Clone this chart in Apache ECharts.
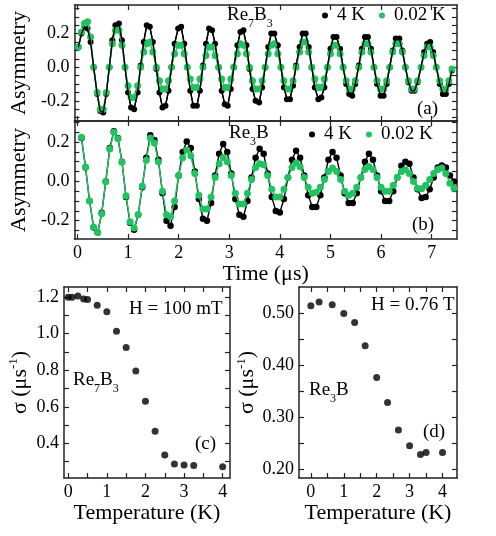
<!DOCTYPE html>
<html>
<head>
<meta charset="utf-8">
<script src="https://cdn.jsdelivr.net/npm/echarts@6/dist/echarts.min.js"></script>
<style>
html, body { margin: 0; padding: 0; background: #fff; }
#chart { width: 496px; height: 536px; }
</style>
</head>
<body>
<div id="chart"></div>
<script>
var FONT = 'Liberation Serif, Times New Roman, serif';
var GREEN = '#20c35f';
var FRAME = '#222';

/* (a) Re7B3 : time bins and asymmetry */
var timeA = [
  0.02,0.08,0.14,0.20,0.26,0.32,0.39,0.45,0.51,0.57,
  0.63,0.69,0.75,0.82,0.88,0.94,1.00,1.06,1.12,1.19,
  1.25,1.31,1.37,1.43,1.49,1.56,1.62,1.68,1.74,1.80,
  1.86,1.92,1.99,2.05,2.11,2.17,2.23,2.29,2.36,2.42,
  2.48,2.54,2.60,2.66,2.72,2.79,2.85,2.91,2.97,3.03,
  3.09,3.16,3.22,3.28,3.34,3.40,3.46,3.52,3.59,3.65,
  3.71,3.77,3.83,3.89,3.96,4.02,4.08,4.14,4.20,4.26,
  4.32,4.39,4.45,4.51,4.57,4.63,4.69,4.76,4.82,4.88,
  4.94,5.00,5.06,5.12,5.19,5.25,5.31,5.37,5.43,5.49,
  5.56,5.62,5.68,5.74,5.80,5.86,5.92,5.99,6.05,6.11,
  6.17,6.23,6.29,6.36,6.42,6.48,6.54,6.60,6.66,6.72,
  6.79,6.85,6.91,6.97,7.03,7.09,7.16,7.22,7.28,7.34,
  7.40
];
var asymA4K = [
  0.12,0.20,0.24,0.23,0.15,0.00,-0.16,-0.26,-0.27,-0.16,
  0.00,0.16,0.25,0.26,0.16,0.00,-0.15,-0.24,-0.25,-0.15,
  0.01,0.15,0.25,0.24,0.15,-0.01,-0.15,-0.24,-0.23,-0.14,
  0.00,0.14,0.23,0.24,0.14,0.00,-0.14,-0.23,-0.23,-0.14,
  0.01,0.14,0.23,0.22,0.14,0.00,-0.14,-0.22,-0.23,-0.13,
  0.00,0.13,0.21,0.22,0.13,-0.01,-0.13,-0.20,-0.21,-0.12,
  0.00,0.12,0.20,0.20,0.13,0.00,-0.12,-0.19,-0.19,-0.11,
  0.01,0.12,0.20,0.20,0.12,0.00,-0.12,-0.19,-0.18,-0.12,
  0.00,0.11,0.18,0.18,0.11,0.00,-0.10,-0.16,-0.17,-0.10,
  0.01,0.11,0.18,0.18,0.11,0.00,-0.10,-0.17,-0.17,-0.10,
  0.00,0.10,0.17,0.17,0.10,0.00,-0.09,-0.14,-0.14,-0.09,
  0.00,0.09,0.14,0.15,0.09,0.00,-0.10,-0.16,-0.16,-0.10,
  -0.02
];
var asymA002K = [
  0.12,0.21,0.26,0.27,0.18,0.00,-0.15,-0.25,-0.25,-0.15,
  0.00,0.14,0.22,0.22,0.13,0.00,-0.11,-0.18,-0.18,-0.11,
  0.00,0.09,0.14,0.15,0.09,0.00,-0.08,-0.13,-0.13,-0.08,
  0.00,0.08,0.13,0.13,0.08,0.00,-0.07,-0.12,-0.12,-0.07,
  0.00,0.07,0.12,0.12,0.07,0.00,-0.07,-0.12,-0.12,-0.07,
  0.00,0.08,0.14,0.13,0.08,0.00,-0.08,-0.13,-0.13,-0.08,
  0.00,0.08,0.13,0.14,0.08,0.00,-0.08,-0.13,-0.13,-0.08,
  0.00,0.09,0.15,0.15,0.09,0.00,-0.07,-0.12,-0.12,-0.07,
  0.00,0.08,0.13,0.13,0.08,0.00,-0.08,-0.13,-0.13,-0.08,
  0.00,0.09,0.14,0.14,0.09,0.00,-0.08,-0.13,-0.13,-0.08,
  0.00,0.09,0.14,0.14,0.09,0.00,-0.08,-0.13,-0.13,-0.08,
  0.00,0.07,0.12,0.12,0.07,0.00,-0.08,-0.13,-0.13,-0.08,
  -0.01
];

/* (b) Re3B : time bins and asymmetry */
var timeB = [
  0.08,0.16,0.24,0.32,0.40,0.48,0.56,0.64,0.72,
  0.80,0.88,0.96,1.04,1.12,1.20,1.28,1.36,1.44,
  1.52,1.60,1.68,1.76,1.84,1.92,2.00,2.08,2.16,
  2.24,2.32,2.40,2.48,2.56,2.64,2.72,2.80,2.88,
  2.96,3.04,3.12,3.20,3.28,3.36,3.44,3.52,3.60,
  3.68,3.76,3.84,3.92,4.00,4.08,4.16,4.24,4.32,
  4.40,4.48,4.56,4.64,4.72,4.80,4.88,4.96,5.04,
  5.12,5.20,5.28,5.36,5.44,5.52,5.60,5.68,5.76,
  5.84,5.92,6.00,6.08,6.16,6.24,6.32,6.40,6.48,
  6.56,6.64,6.72,6.80,6.88,6.96,7.04,7.12,7.20,
  7.28,7.36,7.44
];
var asymB4K = [
  0.22,0.07,-0.10,-0.235,-0.26,-0.16,0.00,0.17,0.255,
  0.22,0.10,-0.08,-0.21,-0.246,-0.17,-0.03,0.12,0.234,
  0.21,0.11,-0.06,-0.20,-0.225,-0.13,0.03,0.15,0.203,
  0.17,0.05,-0.09,-0.19,-0.20,-0.11,0.03,0.14,0.19,
  0.15,0.04,-0.09,-0.17,-0.18,-0.10,0.02,0.12,0.166,
  0.14,0.04,-0.08,-0.15,-0.158,-0.09,0.02,0.11,0.156,
  0.12,0.03,-0.07,-0.13,-0.13,-0.07,0.02,0.11,0.149,
  0.12,0.03,-0.06,-0.11,-0.11,-0.06,0.02,0.10,0.14,
  0.11,0.03,-0.05,-0.10,-0.10,-0.05,0.02,0.08,0.10,
  0.09,0.02,-0.04,-0.085,-0.08,-0.04,0.02,0.07,0.081,
  0.07,0.03,0.00
];
var asymB002K = [
  0.224,0.073,-0.10,-0.232,-0.26,-0.165,0.00,0.164,0.25,
  0.217,0.097,-0.073,-0.205,-0.237,-0.168,-0.024,0.108,0.22,
  0.195,0.10,-0.05,-0.17,-0.18,-0.10,0.03,0.12,0.16,
  0.13,0.04,-0.07,-0.14,-0.14,-0.08,0.02,0.09,0.122,
  0.10,0.03,-0.06,-0.115,-0.115,-0.06,0.01,0.07,0.09,
  0.085,0.03,-0.04,-0.08,-0.08,-0.04,0.02,0.07,0.093,
  0.075,0.02,-0.03,-0.06,-0.055,-0.03,0.01,0.05,0.068,
  0.05,0.01,-0.05,-0.07,-0.06,-0.03,0.02,0.06,0.076,
  0.06,0.02,-0.03,-0.05,-0.05,-0.02,0.02,0.05,0.059,
  0.04,0.00,-0.035,-0.038,-0.02,0.01,0.04,0.06,0.068,
  0.04,-0.01,-0.035
];

/* (c) Re7B3 : sigma vs temperature */
var tempC = [0, 0.1, 0.25, 0.4, 0.5, 0.75, 1.0, 1.25, 1.5, 1.75, 2.0, 2.25, 2.5, 2.75, 3.0, 3.25, 4.0];
var sigmaC = [1.200, 1.200, 1.207, 1.190, 1.188, 1.156, 1.120, 1.014, 0.924, 0.796, 0.630, 0.466, 0.336, 0.287, 0.281, 0.278, 0.272];

/* (d) Re3B : sigma vs temperature */
var tempD = [0, 0.25, 0.65, 1.0, 1.33, 1.65, 2.0, 2.33, 2.66, 3.0, 3.33, 3.5, 4.0];
var sigmaD = [0.515, 0.522, 0.517, 0.500, 0.483, 0.438, 0.377, 0.329, 0.276, 0.246, 0.229, 0.233, 0.233];

/* ticks and tick labels */
var timeTicks = [0, 1, 2, 3, 4, 5, 6, 7];
var asymTicksA = [-0.3, -0.25, -0.2, -0.15, -0.1, -0.05, 0, 0.05, 0.1, 0.15, 0.2, 0.25, 0.3, 0.35];
var asymTicksB = [-0.25, -0.2, -0.15, -0.1, -0.05, 0, 0.05, 0.1, 0.15, 0.2, 0.25, 0.3];
var asymLabels = [-0.2, 0, 0.2];
var tempTicks = [0, 0.5, 1, 1.5, 2, 2.5, 3, 3.5, 4];
var tempLabels = [0, 1, 2, 3, 4];
var sigmaTicksC = [0.3, 0.4, 0.5, 0.6, 0.7, 0.8, 0.9, 1.0, 1.1, 1.2];
var sigmaLabelsC = [0.4, 0.6, 0.8, 1.0, 1.2];
var sigmaTicksD = [0.2, 0.25, 0.3, 0.35, 0.4, 0.45, 0.5];
var sigmaLabelsD = [0.2, 0.3, 0.4, 0.5];

function pairs(xs, ys) {
  return xs.map(function (x, i) { return [x, ys[i]]; });
}

/* one axis of a framed panel; labels only on bottom/left */
function axis(grid, pos, min, max, ticks, labels, digits) {
  var a = {
    type: 'value', gridIndex: grid, position: pos, min: min, max: max,
    axisLine: { show: true, onZero: false, lineStyle: { color: FRAME, width: 1.5 } },
    axisTick: { show: true, inside: true, length: 5, customValues: ticks, lineStyle: { color: FRAME, width: 1.2 } },
    axisLabel: { show: false },
    splitLine: { show: false }
  };
  if (labels) {
    a.axisLabel = {
      show: true, customValues: labels, margin: 5,
      fontFamily: FONT, fontSize: 18, color: '#000',
      formatter: function (v) { return Number(v).toFixed(digits); }
    };
  }
  return a;
}

var nameStyle = { fontFamily: FONT, fontSize: 22, color: '#000' };
var sigmaName = '{m|σ (μs}{u|-1}{m|)}';
var sigmaStyle = {
  rich: {
    m: { fontFamily: FONT, fontSize: 22, color: '#000', lineHeight: 26, padding: [4, 0, 0, 0], verticalAlign: 'top' },
    u: { fontFamily: FONT, fontSize: 13, color: '#000', lineHeight: 14, padding: [2, 0, 0, 0], verticalAlign: 'top' }
  }
};

var RICH = {
  m: { fontFamily: FONT, fontSize: 19, fill: '#000', lineHeight: 22, verticalAlign: 'top' },
  s: { fontFamily: FONT, fontSize: 12, fill: '#000', lineHeight: 12, padding: [12, 0, 0, 0], verticalAlign: 'top' }
};
function note(x, y, txt) {
  return { type: 'text', left: x, top: y, z: 100, style: { text: txt, rich: RICH } };
}

var xa = [
  axis(0, 'bottom', -0.06, 7.5, timeTicks, null),
  axis(0, 'top', -0.06, 7.5, timeTicks, null),
  axis(1, 'bottom', -0.06, 7.5, timeTicks, timeTicks, 0),
  axis(1, 'top', -0.06, 7.5, timeTicks, null),
  axis(2, 'bottom', -0.11, 4.19, tempTicks, tempLabels, 0),
  axis(2, 'top', -0.11, 4.19, tempTicks, null),
  axis(3, 'bottom', -0.36, 4.44, tempTicks, tempLabels, 0),
  axis(3, 'top', -0.36, 4.44, tempTicks, null)
];
xa[2].name = 'Time (μs)'; xa[2].nameLocation = 'middle'; xa[2].nameGap = 22; xa[2].nameTextStyle = nameStyle;
xa[4].name = 'Temperature (K)'; xa[4].nameLocation = 'middle'; xa[4].nameGap = 17; xa[4].nameTextStyle = nameStyle;
xa[6].name = 'Temperature (K)'; xa[6].nameLocation = 'middle'; xa[6].nameGap = 17; xa[6].nameTextStyle = nameStyle;

var ya = [
  axis(0, 'left', -0.32, 0.37, asymTicksA, asymLabels, 1),
  axis(0, 'right', -0.32, 0.37, asymTicksA, null),
  axis(1, 'left', -0.293, 0.307, asymTicksB, asymLabels, 1),
  axis(1, 'right', -0.293, 0.307, asymTicksB, null),
  axis(2, 'left', 0.21, 1.256, sigmaTicksC, sigmaLabelsC, 1),
  axis(2, 'right', 0.21, 1.256, sigmaTicksC, null),
  axis(3, 'left', 0.184, 0.551, sigmaTicksD, sigmaLabelsD, 2),
  axis(3, 'right', 0.184, 0.551, sigmaTicksD, null)
];
ya[0].name = 'Asymmetry'; ya[0].nameLocation = 'middle'; ya[0].nameGap = 31; ya[0].nameTextStyle = nameStyle;
ya[2].name = 'Asymmetry'; ya[2].nameLocation = 'middle'; ya[2].nameGap = 31; ya[2].nameTextStyle = nameStyle;
ya[4].name = sigmaName; ya[4].nameLocation = 'middle'; ya[4].nameGap = 33; ya[4].nameTextStyle = sigmaStyle;
ya[6].name = sigmaName; ya[6].nameLocation = 'middle'; ya[6].nameGap = 38; ya[6].nameTextStyle = sigmaStyle;

function dataLine(name, grid, xs, ys, color, size, z) {
  return {
    name: name, type: 'line', xAxisIndex: grid * 2, yAxisIndex: grid * 2,
    data: pairs(xs, ys), symbol: 'circle', symbolSize: size, showSymbol: true,
    itemStyle: { color: color }, lineStyle: { color: color, width: 1.4 }, z: z
  };
}

var legendBase = {
  data: ['4 K', '0.02 K'], icon: 'circle', itemWidth: 6, itemHeight: 6, itemGap: 14,
  selectedMode: false, padding: 0,
  textStyle: { fontFamily: FONT, fontSize: 19, color: '#000', padding: [0, 0, 0, 4] }
};

var chart = echarts.init(document.getElementById('chart'), null, { renderer: 'canvas' });
chart.setOption({
  animation: false,
  backgroundColor: '#fff',
  grid: [
    { left: 57, top: 5, width: 400, height: 116 },
    { left: 57, top: 121, width: 400, height: 118 },
    { left: 64, top: 287, width: 166, height: 191 },
    { left: 299, top: 287, width: 158, height: 191 }
  ],
  xAxis: xa,
  yAxis: ya,
  legend: [
    Object.assign({}, legendBase, { left: 322, top: 6 }),
    Object.assign({}, legendBase, { left: 309, top: 125 })
  ],
  series: [
    dataLine('4 K', 0, timeA, asymA4K, '#000', 6, 2),
    dataLine('0.02 K', 0, timeA, asymA002K, GREEN, 7, 3),
    {
      name: 'fit', type: 'line', xAxisIndex: 0, yAxisIndex: 0, data: pairs(timeA, asymA4K),
      symbol: 'none', lineStyle: { color: '#000', width: 1.3 }, z: 4
    },
    dataLine('4 K', 1, timeB, asymB4K, '#000', 6.5, 2),
    dataLine('0.02 K', 1, timeB, asymB002K, GREEN, 7, 3),
    {
      type: 'scatter', xAxisIndex: 4, yAxisIndex: 4, data: pairs(tempC, sigmaC),
      symbol: 'circle', symbolSize: 7, itemStyle: { color: '#000' }
    },
    {
      type: 'scatter', xAxisIndex: 6, yAxisIndex: 6, data: pairs(tempD, sigmaD),
      symbol: 'circle', symbolSize: 7, itemStyle: { color: '#000' }
    }
  ],
  graphic: [
    note(227, 6, '{m|Re}{s|7}{m|B}{s|3}'),
    note(229, 124, '{m|Re}{s|3}{m|B}'),
    note(417, 100, '{m|(a)}'),
    note(412, 216, '{m|(b)}'),
    note(129, 300, '{m|H = 100 mT}'),
    note(73, 371, '{m|Re}{s|7}{m|B}{s|3}'),
    note(195, 435, '{m|(c)}'),
    note(371, 296, '{m|H = 0.76 T}'),
    note(309, 381, '{m|Re}{s|3}{m|B}'),
    note(423, 423, '{m|(d)}')
  ]
});
</script>
</body>
</html>
